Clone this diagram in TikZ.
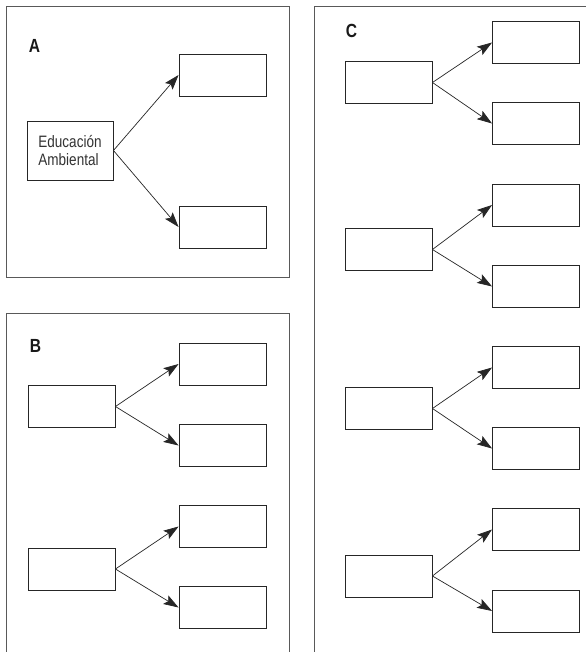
\documentclass[tikz,border=0pt]{standalone}
\usepackage{fontspec}
\setmainfont[FakeStretch=0.82]{Liberation Sans}
\usetikzlibrary{arrows.meta}
\begin{document}
\begin{tikzpicture}[x=1pt,y=-1pt,
  frame/.style={draw=black!65,line width=1pt},
  box/.style={draw=black!85,line width=0.9pt,minimum width=87pt,minimum height=42pt,inner sep=0pt},
  panel/.style={font=\fontsize{19}{19}\selectfont\bfseries,text=black!90,inner sep=0pt},
  link/.style={draw=black!85,line width=0.7pt,-{Stealth[length=15pt,width=10pt,inset=3pt]}}]
\useasboundingbox (0,0) rectangle (586,652);
\fill[white] (0,0) rectangle (586,652);

% panel frames
\draw[frame] (6,7) rectangle (289,277);
\draw[frame] (6,652) -- (6,313) -- (289,313) -- (289,652);
\draw[frame] (314,652) -- (314,7) -- (586,7);

% panel A
\node[panel] (la) at (34.5,46) {A};
\node[box,minimum width=86pt,minimum height=59pt,align=left,text=black!80,
  font=\fontsize{16.5}{18.5}\selectfont] (edu) at (70,150.5) {Educación\\Ambiental};
\node[box] (a1) at (222.5,75) {};
\node[box] (a2) at (222.5,227) {};
\draw[link] (edu.east) -- (a1.west);
\draw[link] (edu.east) -- (a2.west);

% panel B
\node[panel] (lb) at (35.5,346) {B};
\foreach \n/\y/\ya/\yb in {1/406.5/364/445.5, 2/569/526.5/607.5}{
  \node[box] (b\n) at (71.5,\y) {};
  \node[box] (b\n u) at (222.5,\ya) {};
  \node[box] (b\n d) at (222.5,\yb) {};
  \draw[link] (b\n.east) -- (b\n u.west);
  \draw[link] (b\n.east) -- (b\n d.west);
}

% panel C
\node[panel] (lc) at (351.5,31) {C};
\foreach \n/\y/\ya/\yb in {1/82.5/42.5/123.5, 2/249.5/205/286.5, 3/408.5/367.5/448.5, 4/576/529.5/611}{
  \node[box] (c\n) at (388.5,\y) {};
  \node[box] (c\n u) at (536,\ya) {};
  \node[box] (c\n d) at (536,\yb) {};
  \draw[link] (c\n.east) -- (c\n u.west);
  \draw[link] (c\n.east) -- (c\n d.west);
}
\end{tikzpicture}
\end{document}
